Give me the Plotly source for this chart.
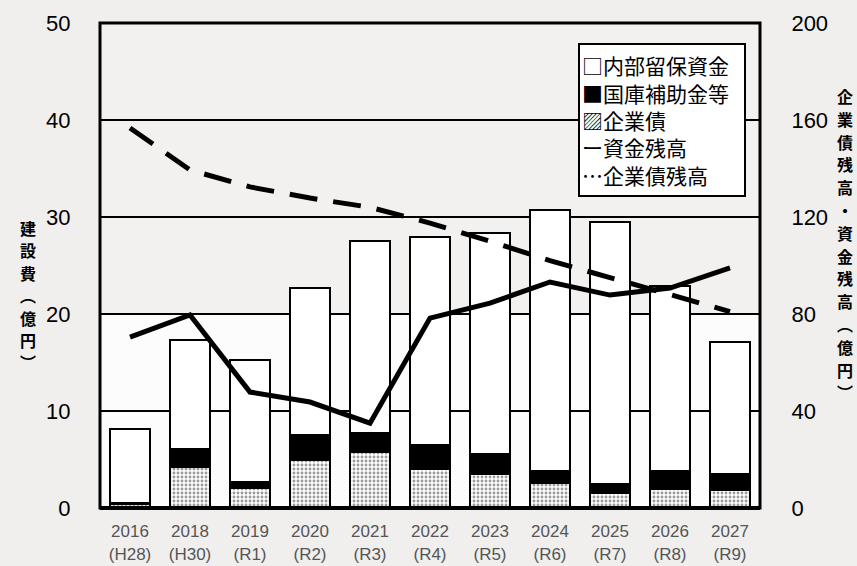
import plotly.graph_objects as go

# Fiscal years and Japanese era labels
years = ["2016", "2018", "2019", "2020", "2021", "2022", "2023", "2024", "2025", "2026", "2027"]
eras = ["H28", "H30", "R1", "R2", "R3", "R4", "R5", "R6", "R7", "R8", "R9"]

# Construction cost breakdown (億円)
kigyosai = [0.4, 4.2, 2.1, 5.0, 5.8, 4.0, 3.5, 2.6, 1.5, 2.0, 1.9]        # 企業債
kokko = [0.1, 1.9, 0.6, 2.5, 1.9, 2.5, 2.1, 1.2, 1.0, 1.8, 1.6]           # 国庫補助金等
naibu = [7.6, 11.2, 12.6, 15.2, 19.8, 21.4, 22.7, 26.9, 27.0, 19.1, 13.6]  # 内部留保資金

# Balances (億円, right axis)
shikin_zandaka = [70.5, 79.6, 47.8, 43.7, 35.0, 78.3, 84.5, 93.2, 87.8, 90.7, 99.0]       # 資金残高
kigyosai_zandaka = [156.7, 139.4, 132.4, 127.8, 124.0, 117.5, 110.0, 102.0, 95.0, 88.0, 81.0]  # 企業債残高

left_title = "建設費︵億円︶"
right_title = "企業債残高・資金残高︵億円︶"
legend_lines = ["□内部留保資金", "■国庫補助金等", "▨企業債", "ー資金残高", "⋯企業債残高"]

x_labels = [f"{y}<br>({e})" for y, e in zip(years, eras)]

NUM_FONT = "Liberation Sans, Arial, sans-serif"
JP_FONT = "Noto Sans CJK JP, sans-serif"
BAR_LINE = dict(color="black", width=2)

W, H = 857, 566
ML, MR, MT, MB = 100, 97, 23, 58
PW, PH = W - ML - MR, H - MT - MB


def px_x(x):
    return (x - ML) / PW


def px_y(y):
    return (H - MB - y) / PH


fig = go.Figure()

fig.add_trace(go.Bar(
    x=x_labels, y=kigyosai, name="企業債",
    marker=dict(color="white", line=BAR_LINE,
                pattern=dict(shape=".", fgcolor="#333", bgcolor="white", size=4, solidity=0.4)),
    width=0.68,
))
fig.add_trace(go.Bar(
    x=x_labels, y=kokko, name="国庫補助金等",
    marker=dict(color="black", line=BAR_LINE),
    width=0.68,
))
fig.add_trace(go.Bar(
    x=x_labels, y=naibu, name="内部留保資金",
    marker=dict(color="white", line=BAR_LINE),
    width=0.68,
))

fig.add_trace(go.Scatter(
    x=x_labels, y=shikin_zandaka, name="資金残高", yaxis="y2",
    mode="lines", line=dict(color="black", width=5),
))
fig.add_trace(go.Scatter(
    x=x_labels, y=kigyosai_zandaka, name="企業債残高", yaxis="y2",
    mode="lines", line=dict(color="black", width=5, dash="28px,16px"),
))

# White lower band of the plot area
fig.add_shape(type="rect", xref="paper", yref="y", x0=0, x1=1, y0=0, y1=20,
              fillcolor="#fcfcfc", line=dict(width=0), layer="below")
# Frame around the plot area
fig.add_shape(type="rect", xref="paper", yref="paper", x0=0, x1=1, y0=0, y1=1,
              line=dict(color="black", width=3), fillcolor="rgba(0,0,0,0)")
fig.add_shape(type="line", xref="paper", yref="paper", x0=0, x1=1, y0=0, y1=0,
              line=dict(color="black", width=4))

# Legend box drawn as text
fig.add_annotation(
    xref="paper", yref="paper", x=px_x(578), y=px_y(43), xanchor="left", yanchor="top",
    text="<br>".join(legend_lines),
    align="left", valign="middle", width=160, height=146, showarrow=False,
    font=dict(family=JP_FONT, size=21, color="black"),
    bgcolor="white", bordercolor="black", borderwidth=2, borderpad=2,
)

# Vertical axis titles, one character per row
for i, ch in enumerate(left_title):
    fig.add_annotation(
        xref="paper", yref="paper", x=px_x(28), y=px_y(228 + i * 22.4),
        xanchor="center", yanchor="middle", text=ch, showarrow=False, borderpad=0,
        font=dict(family=JP_FONT, size=16, color="black", weight="bold"),
    )
for i, ch in enumerate(right_title):
    fig.add_annotation(
        xref="paper", yref="paper", x=px_x(845), y=px_y(96 + i * 22.8),
        xanchor="center", yanchor="middle", text=ch, showarrow=False, borderpad=0,
        font=dict(family=JP_FONT, size=16, color="black", weight="bold"),
    )

fig.update_layout(
    width=W, height=H,
    margin=dict(l=ML, r=MR, t=MT, b=MB, autoexpand=False),
    paper_bgcolor="#f0efed",
    plot_bgcolor="#f2f1ef",
    barmode="stack",
    showlegend=False,
    xaxis=dict(
        type="category", range=[-0.5, 10.5], automargin=False,
        showgrid=False, showline=False, zeroline=False,
        ticks="outside", ticklen=0, ticklabelstandoff=8,
        tickfont=dict(family=NUM_FONT, size=17, color="#555"),
    ),
    yaxis=dict(
        range=[0, 50], dtick=10, showgrid=True, gridcolor="black", gridwidth=2,
        zeroline=False, showline=False, automargin=False,
        ticks="outside", ticklen=0, ticklabelstandoff=24,
        tickfont=dict(family=NUM_FONT, size=22, color="black"),
    ),
    yaxis2=dict(
        range=[0, 200], dtick=40, overlaying="y", side="right",
        showgrid=False, zeroline=False, showline=False, automargin=False,
        ticks="outside", ticklen=0, ticklabelstandoff=26,
        tickfont=dict(family=NUM_FONT, size=22, color="black"),
    ),
)

fig.write_html("out.html")
